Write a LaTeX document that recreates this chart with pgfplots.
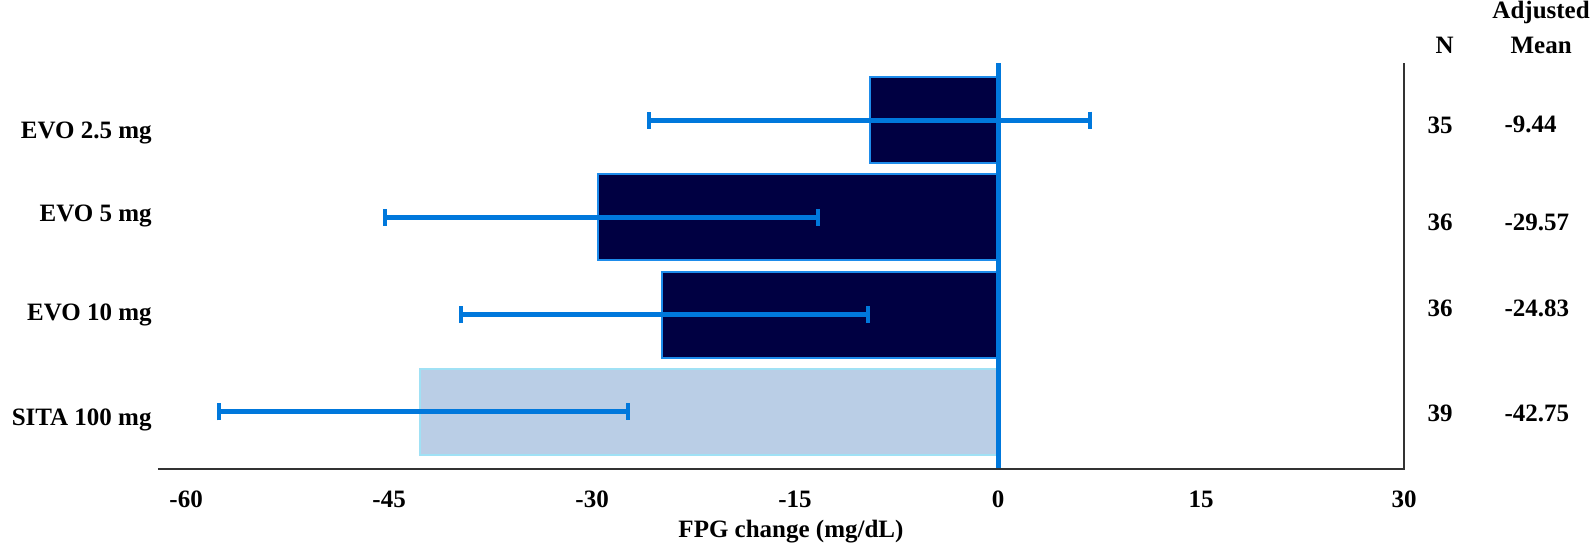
\documentclass[border=0pt]{standalone}
\usepackage{pgfplots}
\pgfplotsset{compat=1.18}
\usepackage{fontspec}
\setmainfont{Liberation Serif}
\definecolor{navy}{RGB}{0,0,66}
\definecolor{barborder}{RGB}{30,140,235}
\definecolor{sitafill}{RGB}{186,206,230}
\definecolor{sitaborder}{RGB}{160,225,245}
\definecolor{errblue}{RGB}{0,120,220}
\newcommand\lbl{\fontsize{12.5}{15}\selectfont\bfseries}
\begin{document}
\begin{tikzpicture}
\begin{axis}[
  scale only axis, width=623pt, height=203pt,
  xmin=-62.08, xmax=30, ymin=-0.586, ymax=3.586,
  axis line style={draw=none},
  xtick={-60,-45,-30,-15,0,15,30},
  ytick={-0.08,1.0,2.01,2.87},
  yticklabels={SITA 100 mg, EVO 10 mg, EVO 5 mg, EVO 2.5 mg},
  major tick length=0pt,
  tick style={draw=none},
  /pgf/number format/assume math mode=true,
  ticklabel style={font=\lbl},
  xticklabel style={anchor=center, inner sep=0pt, yshift=-15pt},
  yticklabel style={anchor=east, inner sep=0pt, xshift=-3pt},
  xlabel={FPG change (mg/dL)},
  xlabel style={font=\lbl, inner sep=0pt, at={(axis description cs:0.508,0)}, anchor=center, yshift=-31.5pt},
  clip=false,
  error bars/error bar style={line width=2.5pt, color=errblue},
  error bars/error mark options={line width=2pt, color=errblue, mark size=4.25pt, rotate=90},
]
\addplot[xbar, bar width=43pt, bar shift=0pt, fill=navy, draw=barborder, line width=1pt,
  error bars/.cd, x dir=both, x explicit] coordinates {
  (-24.83,1) += (15.23,0) -= (14.87,0)
  (-29.57,2) += (16.27,0) -= (15.73,0)
  (-9.44,3)  += (16.24,0) -= (16.36,0)
};
\addplot[xbar, bar width=43pt, bar shift=0pt, fill=sitafill, draw=sitaborder, line width=1pt,
  error bars/.cd, x dir=both, x explicit] coordinates {
  (-42.75,0) += (15.40,0) -= (14.85,0)
};
\addplot[errblue, line width=2.5pt] coordinates {(0,-0.586) (0,3.586)};
\draw[line width=1.2pt, black!80, line join=miter] (rel axis cs:0,0) -- (rel axis cs:1,0) -- (rel axis cs:1,1);
% right-side table
\node[font=\lbl, inner sep=0pt] at (axis cs:33.0,3.77) {N};
\node[font=\lbl, inner sep=0pt] at (axis cs:40.13,4.1) {Adjusted};
\node[font=\lbl, inner sep=0pt] at (axis cs:40.13,3.77) {Mean};
\node[font=\lbl, inner sep=0pt] at (axis cs:32.67,2.95) {35};
\node[font=\lbl, inner sep=0pt] at (axis cs:32.67,1.95) {36};
\node[font=\lbl, inner sep=0pt] at (axis cs:32.67,1.06) {36};
\node[font=\lbl, inner sep=0pt] at (axis cs:32.67,-0.01) {39};
\node[font=\lbl, anchor=west, inner sep=0pt] at (axis cs:37.4,2.95) {-9.44};
\node[font=\lbl, anchor=west, inner sep=0pt] at (axis cs:37.4,1.95) {-29.57};
\node[font=\lbl, anchor=west, inner sep=0pt] at (axis cs:37.4,1.06) {-24.83};
\node[font=\lbl, anchor=west, inner sep=0pt] at (axis cs:37.4,-0.01) {-42.75};
\end{axis}
\path (current axis.south west) ++(-79pt,-41pt) rectangle ++(797.5pt,275.5pt);
\end{tikzpicture}
\end{document}
